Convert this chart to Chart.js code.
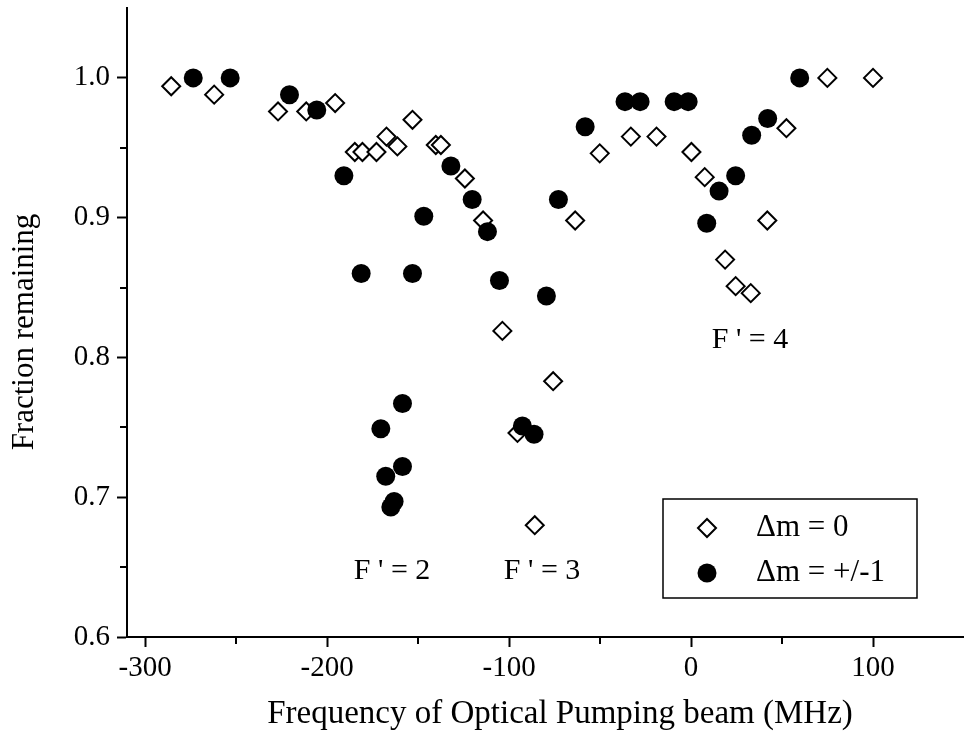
<!DOCTYPE html>
<html><head><meta charset="utf-8">
<script src="https://cdn.jsdelivr.net/npm/chart.js@4.4.0/dist/chart.umd.min.js"></script>
<style>html,body{margin:0;padding:0;background:#fff;}canvas{display:block;}</style>
</head><body>
<canvas id="c" width="964" height="735"></canvas>
<script>
// ---- data ----
const seriesNames = ['\u0394m = 0', '\u0394m = +/-1'];
const diamondX = [-285.7, -262.1, -227.0, -211.5, -195.6, -184.8, -180.6, -172.9, -167.4, -161.4, -153.1, -140.3, -137.5, -124.3, -114.3, -103.7, -95.4, -85.9, -75.8, -63.7, -50.2, -33.1, -19.0, 0.2, 7.5, 18.7, 24.5, 32.8, 41.9, 52.4, 74.9, 100];
const diamondY = [0.994, 0.988, 0.976, 0.976, 0.982, 0.947, 0.947, 0.947, 0.958, 0.951, 0.970, 0.952, 0.952, 0.928, 0.898, 0.819, 0.746, 0.680, 0.783, 0.898, 0.946, 0.958, 0.958, 0.947, 0.929, 0.870, 0.851, 0.846, 0.898, 0.964, 1.0, 1.0];
const circleX = [-273.6, -253.3, -220.7, -205.7, -190.8, -181.3, -170.5, -167.8, -165.0, -163.2, -158.6, -158.6, -153.1, -146.9, -132.0, -120.3, -111.9, -105.3, -92.7, -86.3, -79.5, -72.9, -58.2, -36.3, -28.0, -9.3, -1.6, 8.6, 15.4, 24.5, 33.3, 42.1, 59.7];
const circleY = [1.0, 1.0, 0.988, 0.977, 0.930, 0.860, 0.749, 0.715, 0.693, 0.697, 0.767, 0.722, 0.860, 0.901, 0.937, 0.913, 0.890, 0.855, 0.751, 0.745, 0.844, 0.913, 0.965, 0.983, 0.983, 0.983, 0.983, 0.896, 0.919, 0.930, 0.959, 0.971, 1.0];
const xTickValues = [-300, -200, -100, 0, 100];
const xMinorTickValues = [-250, -150, -50, 50];
const yTickValues = [0.6, 0.7, 0.8, 0.9, 1.0];
const yMinorTickValues = [0.65, 0.75, 0.85, 0.95];
const peakLabelTexts = ["F ' = 2", "F ' = 3", "F ' = 4"];
const xTitle = 'Frequency of Optical Pumping beam (MHz)';
const yTitle = 'Fraction remaining';

// ---- rendering ----
const FONT = '"Liberation Serif", "Times New Roman", serif';

const decor = {
  id: 'decor',
  afterDraw(chart, args, opts) {
    const ctx = chart.ctx;
    const xs = chart.scales.x, ys = chart.scales.y;
    ctx.save();
    ctx.strokeStyle = '#000';
    ctx.fillStyle = '#000';
    ctx.lineWidth = 2;
    // minor ticks
    ctx.beginPath();
    xMinorTickValues.forEach(v => {
      const px = Math.round(xs.getPixelForValue(v));
      ctx.moveTo(px, ys.bottom); ctx.lineTo(px, ys.bottom + 7);
    });
    yMinorTickValues.forEach(v => {
      const py = Math.round(ys.getPixelForValue(v));
      ctx.moveTo(xs.left, py); ctx.lineTo(xs.left - 7, py);
    });
    ctx.stroke();

    // axis titles
    ctx.textAlign = 'center';
    ctx.textBaseline = 'alphabetic';
    ctx.font = '33px ' + FONT;
    ctx.fillText(xTitle, opts.xTitlePos[0], opts.xTitlePos[1]);
    ctx.save();
    ctx.translate(opts.yTitlePos[0], opts.yTitlePos[1]);
    ctx.rotate(-Math.PI / 2);
    ctx.font = '31px ' + FONT;
    ctx.fillText(yTitle, 0, 0);
    ctx.restore();

    // peak labels
    ctx.font = '30px ' + FONT;
    ctx.textBaseline = 'middle';
    opts.peakAnchors.forEach((a, i) => {
      ctx.fillText(peakLabelTexts[i], xs.getPixelForValue(a[0]), ys.getPixelForValue(a[1]));
    });

    // legend
    const L = opts.legend;
    ctx.lineWidth = 1.5;
    ctx.strokeRect(L.x, L.y, L.w, L.h);
    ctx.font = '31px ' + FONT;
    ctx.textAlign = 'left';
    ctx.textBaseline = 'middle';
    chart.data.datasets.forEach((ds, i) => {
      const my = L.rowY[i];
      const mx = L.markerX;
      ctx.fillStyle = ds.backgroundColor;
      ctx.strokeStyle = ds.borderColor;
      ctx.lineWidth = ds.pointBorderWidth;
      ctx.beginPath();
      if (ds.pointStyle === 'rectRot') {
        const r = 9;
        ctx.moveTo(mx - r, my); ctx.lineTo(mx, my - r); ctx.lineTo(mx + r, my); ctx.lineTo(mx, my + r); ctx.closePath();
        ctx.fill(); ctx.stroke();
      } else {
        ctx.arc(mx, my, 9.5, 0, Math.PI * 2);
        ctx.fill();
      }
      ctx.fillStyle = '#000';
      ctx.fillText(ds.label, L.textX, my);
    });
    ctx.restore();
  }
};

new Chart(document.getElementById('c').getContext('2d'), {
  type: 'scatter',
  data: {
    datasets: [
      {
        label: seriesNames[0],
        data: diamondX.map((x, i) => ({ x: x, y: diamondY[i] })),
        pointStyle: 'rectRot', pointRadius: 9, pointBorderWidth: 2,
        borderColor: '#000', backgroundColor: '#fff', order: 1
      },
      {
        label: seriesNames[1],
        data: circleX.map((x, i) => ({ x: x, y: circleY[i] })),
        pointStyle: 'circle', pointRadius: 9.5, pointBorderWidth: 0,
        borderColor: '#000', backgroundColor: '#000', order: 0
      }
    ]
  },
  options: {
    responsive: false,
    animation: false,
    devicePixelRatio: 1,
    layout: { autoPadding: false, padding: { top: 8, right: 0, left: 0, bottom: 0 } },
    plugins: {
      legend: { display: false },
      tooltip: { enabled: false },
      decor: {
        xTitlePos: [560, 723],
        yTitlePos: [33, 332],
        peakAnchors: [[-164.3, 0.647], [-81.9, 0.647], [32.4, 0.8125]],
        legend: { x: 663, y: 499, w: 254, h: 99, markerX: 707, rowY: [528, 573], textX: 756 }
      }
    },
    scales: {
      x: {
        type: 'linear', min: -310, max: 150,
        afterBuildTicks: s => { s.ticks = xTickValues.map(v => ({ value: v })); },
        afterFit: s => { s.height = 98; s.paddingLeft = 0; s.paddingRight = 0; },
        grid: { display: true, drawOnChartArea: false, drawTicks: true, tickLength: 10, tickWidth: 2, tickColor: '#000' },
        border: { display: true, color: '#000', width: 2 },
        ticks: { color: '#000', font: { family: FONT, size: 29 }, padding: 4, maxRotation: 0, autoSkip: false,
                 callback: v => String(v) }
      },
      y: {
        type: 'linear', min: 0.6, max: 1.05,
        afterBuildTicks: s => { s.ticks = yTickValues.map(v => ({ value: v })); },
        afterFit: s => { s.width = 127; s.paddingTop = 0; s.paddingBottom = 0; },
        grid: { display: true, drawOnChartArea: false, drawTicks: true, tickLength: 10, tickWidth: 2, tickColor: '#000' },
        border: { display: true, color: '#000', width: 2 },
        ticks: { color: '#000', font: { family: FONT, size: 29 }, padding: 7, autoSkip: false,
                 callback: v => Number(v).toFixed(1) }
      }
    }
  },
  plugins: [decor]
});
</script>
</body></html>
